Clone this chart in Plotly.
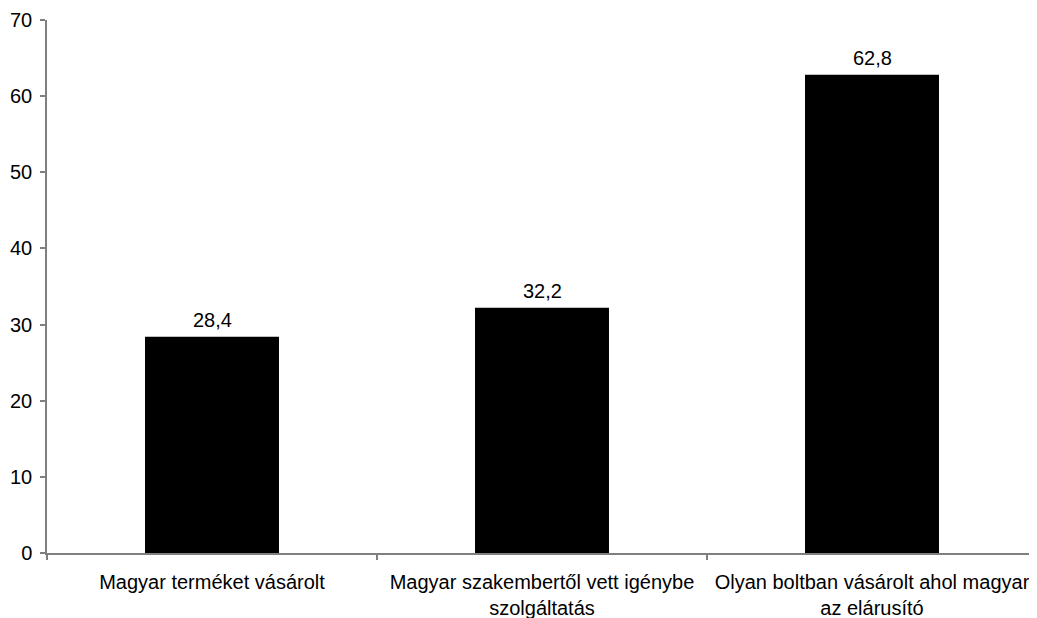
import plotly.graph_objects as go

categories = [
    "Magyar terméket vásárolt",
    "Magyar szakembertől vett igénybe<br>szolgáltatás",
    "Olyan boltban vásárolt ahol magyar<br>az elárusító",
]
values = [28.4, 32.2, 62.8]
value_labels = ["28,4", "32,2", "62,8"]

fig = go.Figure(go.Bar(
    x=categories, y=values,
    marker=dict(color="black", line=dict(width=0)),
    width=0.406, cliponaxis=False,
))
for c, v, t in zip(categories, values, value_labels):
    fig.add_annotation(x=c, y=v, text=t, showarrow=False, yanchor="bottom", yshift=4,
                       font=dict(family="Liberation Sans", size=20, color="black"))

# page body has an 8px margin; compensate so the plot area lands where the reference has it
fig.update_layout(
    width=1029, height=610, paper_bgcolor="white", plot_bgcolor="white",
    margin=dict(l=39, r=0, t=12, b=65), showlegend=False,
    font=dict(family="Liberation Sans", size=20, color="black"),
)
fig.update_xaxes(showline=True, linecolor="#808080", linewidth=1.5, ticks="outside",
                 tickson="boundaries", ticklen=5, tickcolor="#808080", tickwidth=1.5,
                 showgrid=False, tickfont=dict(size=20), automargin=False,
                 ticklabelstandoff=10)
fig.update_yaxes(range=[0, 70], dtick=10, showline=True, linecolor="#808080", linewidth=1.5,
                 ticks="outside", ticklen=5, tickcolor="#808080", tickwidth=1.5,
                 showgrid=False, zeroline=False, tickfont=dict(size=20), automargin=False,
                 ticklabelstandoff=4)
fig.write_html("out.html")
